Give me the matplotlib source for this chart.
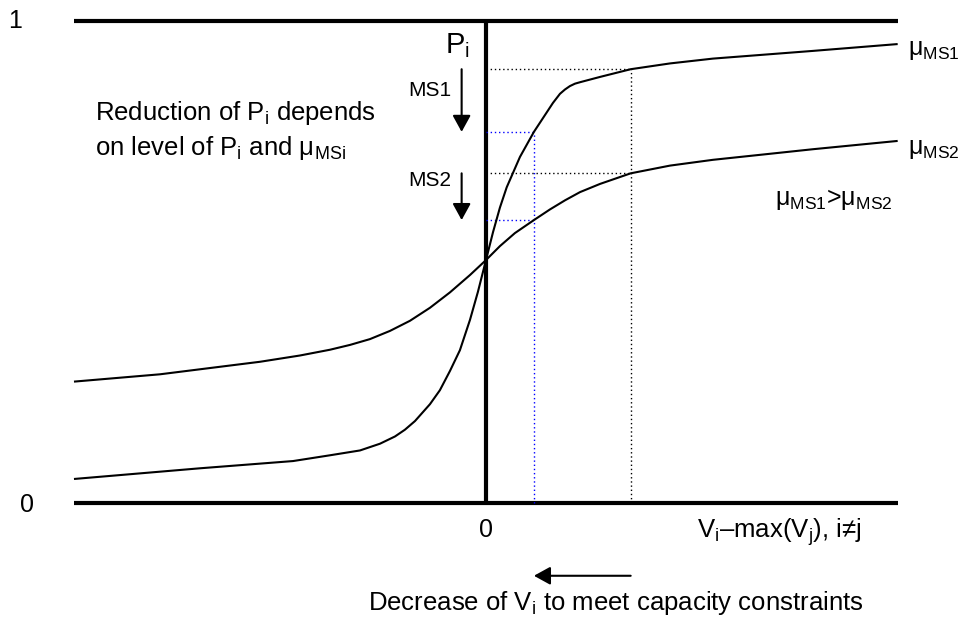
import numpy as np
import matplotlib
matplotlib.use('Agg')
import matplotlib.pyplot as plt

plt.rcParams['font.family'] = ['Liberation Sans', 'DejaVu Sans']
plt.rcParams['mathtext.fontset'] = 'custom'
plt.rcParams['mathtext.rm'] = 'Liberation Sans'
plt.rcParams['mathtext.it'] = 'Liberation Sans:italic'

# curve readings: x = Vi - max(Vj) (dotted reference at 1), y = Pi
ms1_x = [-2.854, -1.986, -1.340, -1.083, -0.875, -0.736, -0.632, -0.563, -0.493,
         -0.389, -0.320, -0.250, -0.181, -0.111, -0.056, 0.0, 0.049, 0.097, 0.144,
         0.236, 0.333, 0.421, 0.465, 0.514, 0.549, 0.583, 0.618, 0.653, 0.792,
         1.005, 1.278, 1.576, 1.924, 2.271, 2.852]
ms1_y = [0.050, 0.072, 0.087, 0.099, 0.109, 0.123, 0.138, 0.152, 0.170,
         0.205, 0.234, 0.274, 0.317, 0.380, 0.438, 0.504, 0.562, 0.613, 0.655,
         0.718, 0.770, 0.810, 0.830, 0.849, 0.858, 0.865, 0.870, 0.873, 0.884,
         0.900, 0.912, 0.922, 0.930, 0.938, 0.952]

ms2_x = [-2.854, -2.264, -1.917, -1.569, -1.292, -1.083, -0.944, -0.806, -0.667,
         -0.528, -0.389, -0.250, -0.111, 0.0, 0.097, 0.201, 0.333, 0.444, 0.549,
         0.653, 0.792, 1.005, 1.278, 1.576, 1.924, 2.271, 2.852]
ms2_y = [0.252, 0.267, 0.280, 0.293, 0.306, 0.318, 0.328, 0.340, 0.357,
         0.378, 0.405, 0.437, 0.473, 0.504, 0.533, 0.560, 0.587, 0.609, 0.628,
         0.645, 0.662, 0.684, 0.700, 0.712, 0.723, 0.734, 0.751]

x_ref = 1.005      # black dotted guide
x_new = 0.333      # blue dotted guide (after decrease of Vi)
p_ms1_ref, p_ms2_ref = 0.900, 0.684
p_ms1_new, p_ms2_new = 0.770, 0.587
x_left, x_right = -2.86, 2.86

fig = plt.figure(figsize=(9.61, 6.19), dpi=100)
ax = fig.add_axes([0, 0, 1, 1])
ax.set_xlim(-3.375, 3.299)
ax.set_ylim(-0.2407, 1.0436)
ax.axis('off')

# frame lines
ax.plot([x_left, x_right], [0, 0], color='black', lw=3, solid_capstyle='butt')
ax.plot([x_left, x_right], [1, 1], color='black', lw=3, solid_capstyle='butt')
ax.plot([0, 0], [0, 1], color='black', lw=3, solid_capstyle='butt')

# guides
dot = (0, (1, 2))
ax.plot([0, x_ref], [p_ms1_ref, p_ms1_ref], color='black', lw=1, ls=dot)
ax.plot([0, x_ref], [p_ms2_ref, p_ms2_ref], color='black', lw=1, ls=dot)
ax.plot([x_ref, x_ref], [0, p_ms1_ref], color='black', lw=1, ls=dot)
ax.plot([0, x_new], [p_ms1_new, p_ms1_new], color='#0000ff', lw=1, ls=dot)
ax.plot([0, x_new], [p_ms2_new, p_ms2_new], color='#0000ff', lw=1, ls=dot)
ax.plot([x_new, x_new], [0, p_ms1_new], color='#0000ff', lw=1, ls=dot)

# curves
ax.plot(ms1_x, ms1_y, color='black', lw=1.5, solid_joinstyle='round')
ax.plot(ms2_x, ms2_y, color='black', lw=1.5, solid_joinstyle='round')

# arrows
arrow = dict(arrowstyle='-|>,head_length=1.0,head_width=0.55', mutation_scale=10,
             color='black', lw=1.5, shrinkA=0, shrinkB=0)
ax.annotate('', xy=(-0.169, p_ms1_new), xytext=(-0.169, p_ms1_ref), arrowprops=arrow)
ax.annotate('', xy=(-0.169, p_ms2_new), xytext=(-0.169, p_ms2_ref), arrowprops=arrow)
ax.annotate('', xy=(x_new, -0.151), xytext=(x_ref, -0.151), arrowprops=arrow)

# labels
ax.text(-3.271, 1.0, '1', fontsize=18, ha='center', va='center')
ax.text(-3.188, -0.004, '0', fontsize=18, ha='center', va='center')
ax.text(0, -0.056, '0', fontsize=18, ha='center', va='center')
ax.text(1.465, -0.073, r'V$_\mathrm{i}$–max(V$_\mathrm{j}$), i≠j', fontsize=18.5,
        ha='left', va='baseline')
ax.text(0.903, -0.222, r'Decrease of V$_\mathrm{i}$ to meet capacity constraints',
        fontsize=18.5, ha='center', va='baseline')
ax.text(-0.285, 0.934, r'P$_\mathrm{i}$', fontsize=21, ha='left', va='baseline')
ax.text(-0.542, 0.855, 'MS1', fontsize=15, ha='left', va='center')
ax.text(-0.542, 0.669, 'MS2', fontsize=15, ha='left', va='center')
ax.text(-2.715, 0.795, r'Reduction of P$_\mathrm{i}$ depends', fontsize=18.5,
        ha='left', va='baseline')
ax.text(-2.715, 0.722, r'on level of P$_\mathrm{i}$ and μ$_\mathrm{MSi}$', fontsize=18.5,
        ha='left', va='baseline')
ax.text(2.931, 0.929, r'μ$_\mathrm{MS1}$', fontsize=18, ha='left', va='baseline')
ax.text(2.931, 0.724, r'μ$_\mathrm{MS2}$', fontsize=18, ha='left', va='baseline')
ax.text(2.007, 0.618, r'μ$_\mathrm{MS1}$>μ$_\mathrm{MS2}$', fontsize=18,
        ha='left', va='baseline')

fig.savefig('out.png', dpi=100)
